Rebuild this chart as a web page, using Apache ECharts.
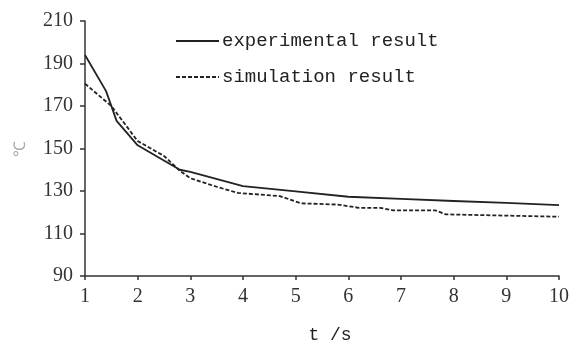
<!DOCTYPE html>
<html>
<head>
<meta charset="utf-8">
<script src="https://cdn.jsdelivr.net/npm/echarts@6/dist/echarts.min.js"></script>
<style>
  html, body { margin: 0; padding: 0; background: #fff; }
  #chart { width: 572px; height: 349px; }
</style>
</head>
<body>
<div id="chart"></div>
<script>
// experimental result (solid)
const expTime = [1, 1.4, 1.6, 2, 2.8, 3, 4, 5, 6, 7, 8, 9, 10];
const expTemp = [194, 177, 163, 151.5, 140, 139, 132.3, 129.8, 127.3, 126.3, 125.3, 124.4, 123.4];

// simulation result (dashed)
const simTime = [1, 1.5, 2, 2.5, 2.8, 3, 3.5, 3.9, 4.7, 5.1, 5.8, 6.2, 6.6, 6.85, 7.65, 7.85, 10];
const simTemp = [180.5, 170, 153.5, 146.5, 139.5, 136, 132, 129.1, 127.6, 124.2, 123.6, 122.1, 122.1, 120.9, 120.9, 119, 117.9];

const chart = echarts.init(document.getElementById("chart"));

const serif = "'Liberation Serif', 'Times New Roman', serif";
const mono = "'Liberation Mono', 'Courier New', monospace";

chart.setOption({
  animation: false,
  backgroundColor: "#fff",
  grid: { left: 85, right: 13, top: 21, bottom: 60 },
  legend: {
    orient: "vertical",
    left: 170,
    top: 26,
    itemWidth: 43,
    itemHeight: 14,
    itemGap: 16,
    itemStyle: { opacity: 0 },
    textStyle: { fontFamily: mono, fontSize: 19, lineHeight: 20, color: "#222", padding: [0, 0, 0, -2] },
    data: ["experimental result", "simulation result"],
  },
  xAxis: {
    type: "value",
    min: 1,
    max: 10,
    interval: 1,
    name: "t /s",
    nameLocation: "middle",
    nameGap: 50,
    nameTextStyle: { fontFamily: mono, fontSize: 18, color: "#222", padding: [0, 0, 0, 16] },
    axisLine: { lineStyle: { color: "#333", width: 1.5 } },
    axisTick: { length: 4, lineStyle: { color: "#333", width: 1.5 } },
    axisLabel: { fontFamily: serif, fontSize: 20, color: "#333", margin: 11 },
    splitLine: { show: false },
  },
  yAxis: {
    type: "value",
    min: 90,
    max: 210,
    interval: 20,
    name: "\u2103",
    nameLocation: "middle",
    nameRotate: 90,
    nameGap: 56,
    nameTextStyle: { fontFamily: serif, fontSize: 16, color: "#aaa" },
    axisLine: { show: true, lineStyle: { color: "#333", width: 1.5 } },
    axisTick: { show: true, length: 5, lineStyle: { color: "#333", width: 1.5 } },
    axisLabel: { fontFamily: serif, fontSize: 20, color: "#333", margin: 12 },
    splitLine: { show: false },
  },
  series: [
    {
      name: "experimental result",
      type: "line",
      data: expTime.map((t, i) => [t, expTemp[i]]),
      symbol: "none",
      lineStyle: { color: "#222", width: 1.8 },
      itemStyle: { color: "#222" },
    },
    {
      name: "simulation result",
      type: "line",
      data: simTime.map((t, i) => [t, simTemp[i]]),
      symbol: "none",
      lineStyle: { color: "#222", width: 1.8, type: [4, 2] },
      itemStyle: { color: "#222" },
    },
  ],
});
</script>
</body>
</html>
